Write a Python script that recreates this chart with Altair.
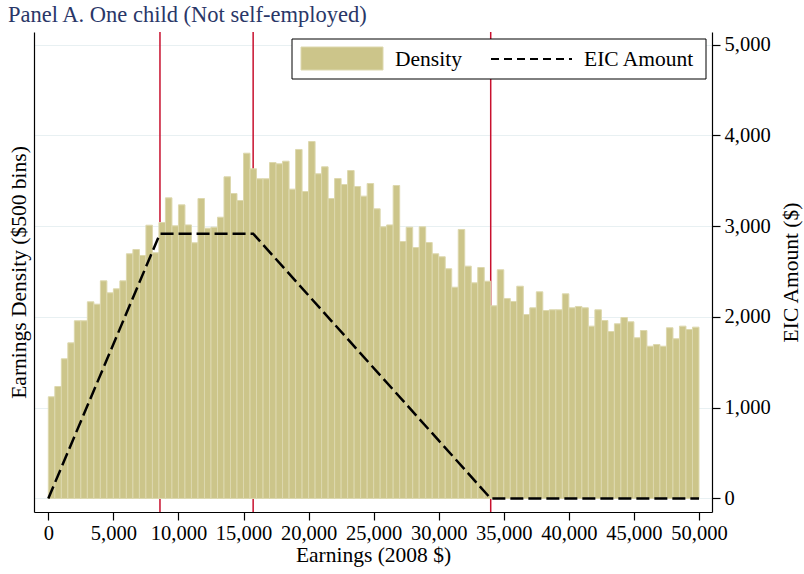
import altair as alt
import pandas as pd

# ---------------- data ----------------
bin_width = 500
# Density of earnings per $500 bin (relative units)
density = [
    1120, 1233, 1538, 1714, 1957, 1957, 2166, 2140, 2397, 2265,
    2309, 2397, 2695, 2742, 2676, 3010, 2706, 3040, 3311, 3003,
    3234, 3013, 2816, 3304, 2977, 2988, 3098, 3543, 3359, 3282,
    3803, 3631, 3521, 3521, 3700, 3686, 3715, 3407, 3844, 3381,
    3932, 3576, 3653, 3304, 3524, 3458, 3612, 3436, 3330, 3469,
    3190, 2992, 3013, 3447, 2830, 2988, 2764, 2992, 2819, 2695,
    2662, 2530, 2327, 2963, 2559, 2375, 2544, 2393, 2122, 2519,
    2203, 2170, 2338, 2026, 2100, 2276, 2070, 2078, 2078, 2254,
    2100, 2115, 2100, 1898, 2078, 1960, 1839, 1924, 1993, 1946,
    1770, 1850, 1677, 1696, 1677, 1880, 1759, 1898, 1861, 1887,
]
bin_start = [i * bin_width for i in range(len(density))]

# EIC schedule, one child, 2008
eic_earnings = [0, 8580, 15740, 33995, 50000]
eic_amount = [0, 2917, 2917, 0, 0]

# kink points (red vertical lines)
kinks = [8580, 15740, 33995]

x_ticks = [0, 5000, 10000, 15000, 20000, 25000, 30000, 35000, 40000, 45000, 50000]
y_ticks = [0, 1000, 2000, 3000, 4000, 5000]

# ---------------- tables ----------------
df_bins = pd.DataFrame({
    "lo": bin_start,
    "hi": [b + bin_width for b in bin_start],
    "density": density,
})
df_eic = pd.DataFrame({"earn": eic_earnings, "eic": eic_amount})
df_kinks = pd.DataFrame({"kink": kinks})

# ---------------- style ----------------
SERIF = "Liberation Serif"
FS = 21.5
LFS = 20.5
BAR_FILL = "#ccc58a"
BAR_EDGE = "#ddd8ae"
RED = "#c8102e"
NAVY = "#2a3768"

x_scale = alt.Scale(domain=[-1100, 51000], nice=False, zero=False)
yL_scale = alt.Scale(domain=[-149, 5138], nice=False, zero=False)
yR_scale = alt.Scale(domain=[-149, 5138], nice=False, zero=False)

x_axis = alt.Axis(
    values=x_ticks, format=",.0f", title="Earnings (2008 $)", grid=False,
    labelOverlap=False, labelFlush=False, tickSize=8, labelPadding=3,
    titlePadding=1,
)

rules = alt.Chart(df_kinks).mark_rule(color=RED, strokeWidth=1.5).encode(
    x=alt.X("kink:Q", scale=x_scale, axis=x_axis),
)

bars = alt.Chart(df_bins).mark_rect(
    fill=BAR_FILL, stroke=BAR_EDGE, strokeWidth=1
).encode(
    x=alt.X("lo:Q", scale=x_scale, axis=x_axis),
    x2="hi:Q",
    y=alt.Y(
        "density:Q", scale=yL_scale,
        axis=alt.Axis(orient="left", title="Earnings Density ($500 bins)",
                      labels=False, ticks=False, grid=False, titlePadding=4),
    ),
    y2=alt.datum(0),
)

eic = alt.Chart(df_eic).mark_line(
    color="black", strokeWidth=2.5, strokeDash=[13, 5]
).encode(
    x=alt.X("earn:Q", scale=x_scale, axis=x_axis),
    y=alt.Y(
        "eic:Q", scale=yR_scale,
        axis=alt.Axis(orient="right", values=y_ticks, format=",.0f",
                      title="EIC Amount ($)", titleAngle=270,
                      titleX=79, titleY=240, titleAlign="center",
                      titleBaseline="middle", grid=True,
                      gridColor="#e8f0f2", gridWidth=1.2, tickSize=8,
                      labelPadding=4, labelFlush=False),
    ),
)

# ---------------- legend (drawn inside the plot) ----------------
leg_df = pd.DataFrame({"k": [0]})
leg_box = alt.Chart(leg_df).mark_rect(fill="white", stroke="black", strokeWidth=1).encode(
    x=alt.value(258), x2=alt.value(672), y=alt.value(7), y2=alt.value(47)
)
leg_swatch = alt.Chart(leg_df).mark_rect(fill=BAR_FILL, stroke=BAR_EDGE, strokeWidth=1).encode(
    x=alt.value(267), x2=alt.value(349), y=alt.value(15), y2=alt.value(38)
)
leg_dash = alt.Chart(leg_df).mark_rule(color="black", strokeWidth=2, strokeDash=[8, 5]).encode(
    x=alt.value(457), x2=alt.value(538), y=alt.value(27)
)
leg_t1 = alt.Chart(leg_df).mark_text(
    text="Density", font=SERIF, fontSize=FS, align="left", baseline="middle", color="black"
).encode(x=alt.value(361), y=alt.value(28))
leg_t2 = alt.Chart(leg_df).mark_text(
    text="EIC Amount", font=SERIF, fontSize=FS, align="left", baseline="middle", color="black"
).encode(x=alt.value(550), y=alt.value(28))

chart = alt.layer(
    rules, bars, eic, leg_box, leg_swatch, leg_dash, leg_t1, leg_t2
).resolve_scale(
    y="independent"
).properties(
    width=678,
    height=480,
    padding={"left": 34, "top": 32, "right": 92, "bottom": 62},
    autosize=alt.AutoSizeParams(type="none"),
    title=alt.TitleParams(
        "Panel A. One child (Not self-employed)", anchor="start", frame="group",
        font=SERIF, fontSize=22.5, fontWeight="normal", color=NAVY,
        dx=-26, offset=5,
    ),
).configure_view(
    stroke=None
).configure_axis(
    labelFont=SERIF, labelFontSize=LFS, labelColor="black",
    titleFont=SERIF, titleFontSize=FS, titleFontWeight="normal", titleColor="black",
    domainColor="black", domainWidth=1.2, tickColor="black", tickWidth=1.2,
)

chart.save("out.html", embed_options={"renderer": "svg", "actions": False})
